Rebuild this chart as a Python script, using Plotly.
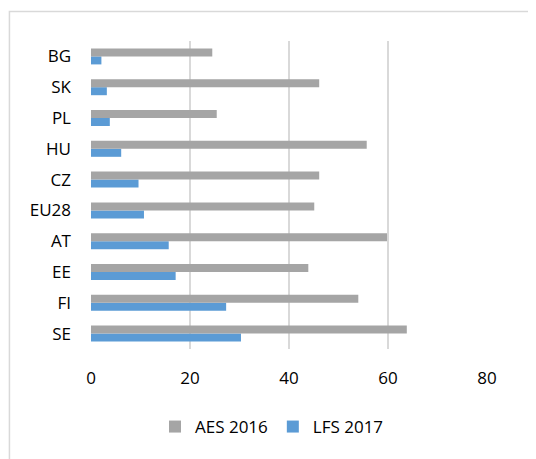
import plotly.graph_objects as go

categories = ["SE", "FI", "EE", "AT", "EU28", "CZ", "HU", "PL", "SK", "BG"]
aes_2016 = [63.8, 54.0, 43.9, 59.8, 45.1, 46.1, 55.7, 25.4, 46.1, 24.5]
lfs_2017 = [30.3, 27.3, 17.1, 15.7, 10.7, 9.6, 6.1, 3.8, 3.2, 2.1]
x_ticks = [0, 20, 40, 60, 80]

FONT = "Open Sans, Liberation Sans, sans-serif"

fig = go.Figure()
fig.add_trace(go.Bar(
    y=categories, x=lfs_2017, orientation="h", name="LFS 2017",
    marker=dict(color="#5b9bd5", line=dict(width=0)), legendrank=2,
))
fig.add_trace(go.Bar(
    y=categories, x=aes_2016, orientation="h", name="AES 2016",
    marker=dict(color="#a5a5a5", line=dict(width=0)), legendrank=1,
))

# the page body adds an 8px offset, so the figure is drawn 8px smaller/shifted
OFF = 8
W, H = 536 - OFF, 459 - OFF
ml, mt = 91 - OFF, 41 - OFF
plot_right = 486.7 - OFF
plot_bottom = 349 - OFF
mr = W - plot_right
mb = H - plot_bottom
pw, ph = W - ml - mr, H - mt - mb

def px_x(p):
    return (p - ml) / pw

def px_y(p):
    return (H - mb - p) / ph

fig.add_shape(
    type="rect", xref="paper", yref="paper",
    x0=px_x(9.5 - OFF), x1=px_x(W + 20), y0=px_y(H + 20), y1=px_y(11.5 - OFF),
    line=dict(color="#d9d9d9", width=1.5), fillcolor="rgba(0,0,0,0)", layer="below",
)

fig.update_layout(
    width=W, height=H,
    margin=dict(l=ml, r=mr, t=mt, b=mb, autoexpand=False),
    paper_bgcolor="white", plot_bgcolor="white",
    barmode="group", bargap=0.48, bargroupgap=0,
    font=dict(family=FONT, size=17, color="#000000"),
    showlegend=True,
    legend=dict(
        orientation="h", xref="container", yref="container",
        x=0.5, xanchor="center", y=1 - (427 - OFF) / H, yanchor="middle",
        font=dict(family=FONT, size=17, color="#000000"),
        itemwidth=30, traceorder="normal",
    ),
    xaxis=dict(
        range=[0, 80], tickvals=x_ticks, showgrid=True, gridcolor="#d9d9d9",
        gridwidth=1.5, zeroline=False, showline=False, ticks="",
        ticklabelstandoff=17, fixedrange=True,
    ),
    yaxis=dict(
        categoryorder="array", categoryarray=categories,
        showgrid=False, zeroline=False, showline=False, ticks="",
        ticklabelstandoff=19, fixedrange=True,
    ),
)

fig.write_html("out.html")
